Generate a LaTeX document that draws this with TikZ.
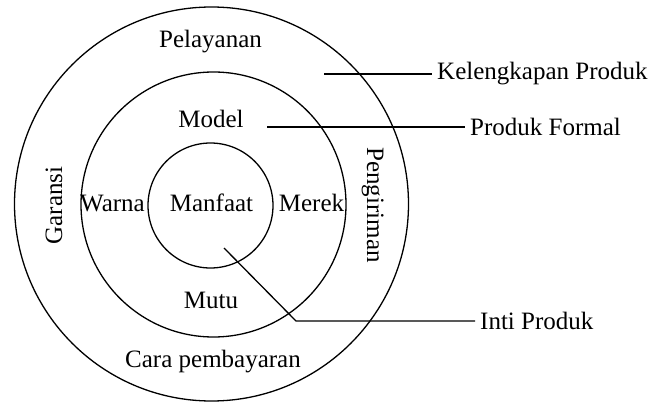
\documentclass[tikz,border=0pt]{standalone}
\usepackage{fontspec}
\setmainfont{Liberation Serif}
\begin{document}
\begin{tikzpicture}[x=1pt,y=-1pt,
  ring/.style={draw, circle, line width=1.3pt, inner sep=0pt},
  lbl/.style={font=\fontsize{25}{30}\selectfont, inner sep=0pt},
  callout/.style={font=\fontsize{25}{30}\selectfont, inner ysep=0pt, inner xsep=5pt, anchor=west},
  lead/.style={line width=1.3pt}]
\useasboundingbox (0,0) rectangle (651,403);

% the three product layers
\node[ring, minimum size=394pt] (outer)  at (211.5,204)   {};
\node[ring, minimum size=265pt] (middle) at (213.5,204.5) {};
\node[ring, minimum size=125pt] (inner)  at (210.5,205.5) {};

% outer ring: augmented product
\node[lbl, anchor=base] (pelayanan) at (210.5,48) {Pelayanan};
\node[lbl, anchor=base] (cara) at (213,368) {Cara pembayaran};
\node[lbl, anchor=base, rotate=90] (garansi) at (62,205.5) {Garansi};
\node[lbl, anchor=base, rotate=-90] (pengiriman) at (367,205) {Pengiriman};

% middle ring: formal product
\node[lbl, anchor=base] (model) at (211,128) {Model};
\node[lbl, anchor=base] (mutu) at (211,309) {Mutu};
\node[lbl, anchor=base] (warna) at (112.5,212) {Warna};
\node[lbl, anchor=base] (merek) at (311.5,212) {Merek};

% core
\node[lbl, anchor=base] (manfaat) at (211.5,212) {Manfaat};

% callouts
\coordinate (kelstart) at (324,74);
\node[callout] (kel) at (432,74) {Kelengkapan Produk};
\draw[lead] (kelstart) -- (kel.west);

\coordinate (formstart) at (267,127);
\node[callout] (formal) at (465,127) {Produk Formal};
\draw[lead] (formstart) -- (formal.west);

\coordinate (intistart) at (224,248);
\coordinate (intibend) at (296,321);
\node[callout] (inti) at (475,321) {Inti Produk};
\draw[lead] (intistart) -- (intibend) -- (inti.west);
\end{tikzpicture}
\end{document}
